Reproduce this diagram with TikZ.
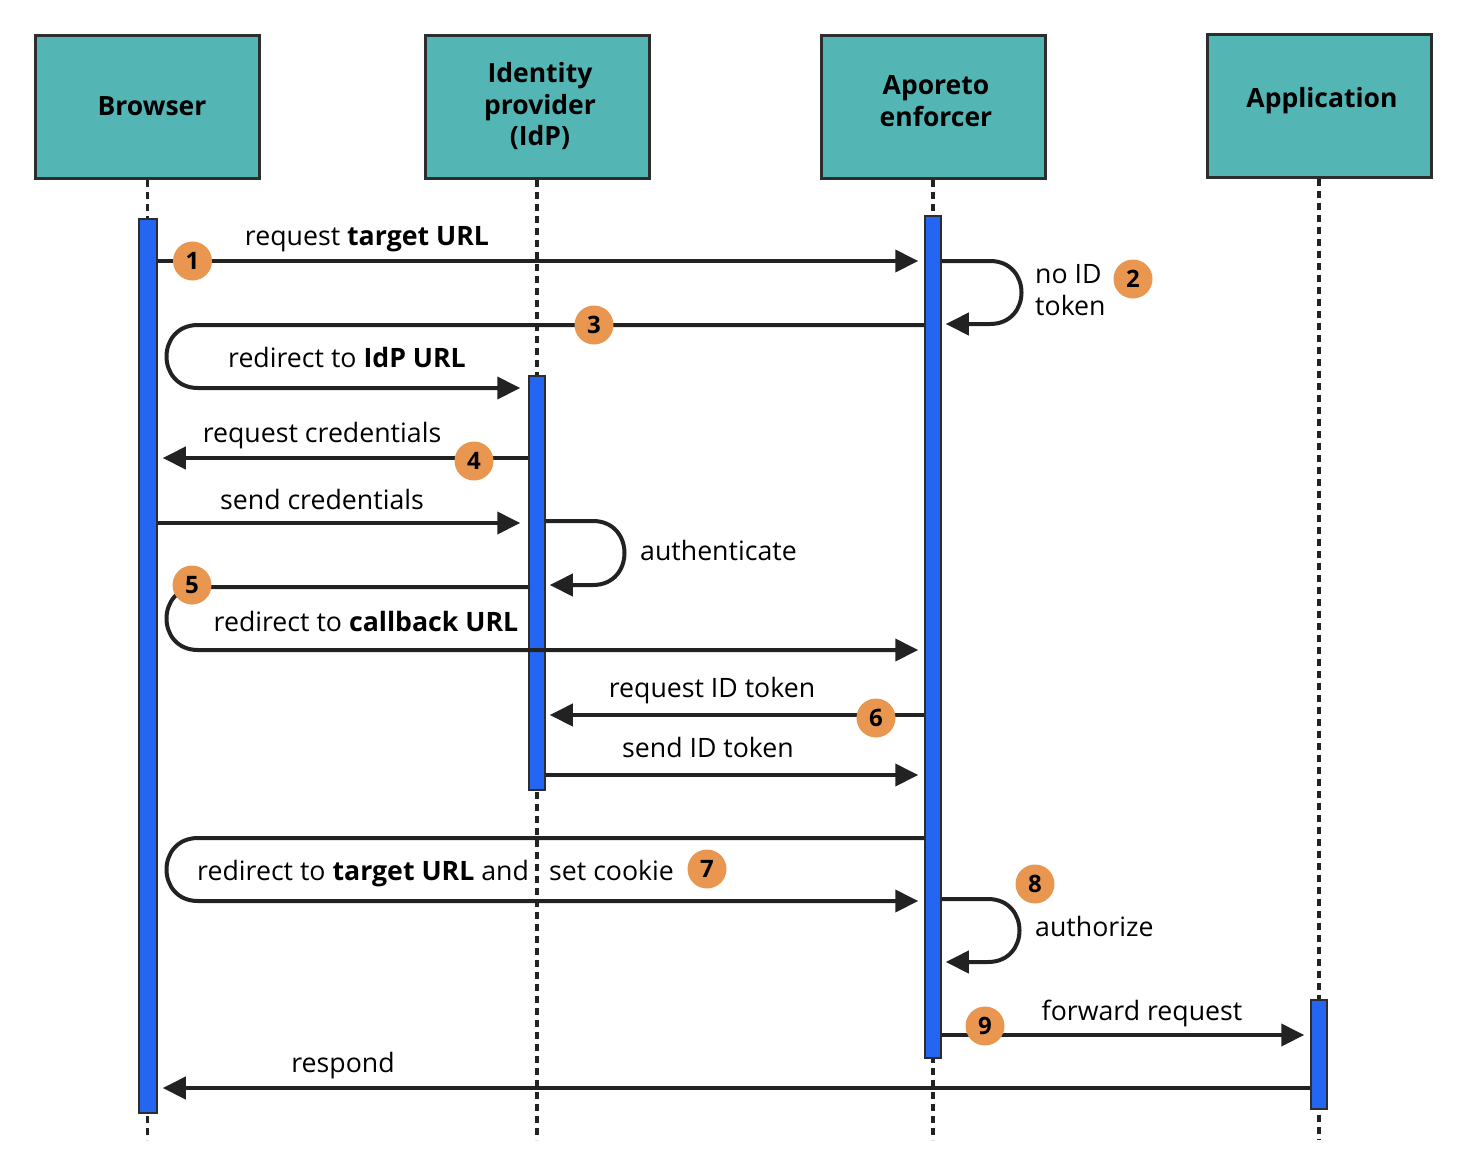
\documentclass[tikz,border=0pt]{standalone}
\usepackage{fontspec}
\setmainfont{Open Sans}
\usetikzlibrary{arrows.meta,calc}
\definecolor{headfill}{RGB}{84,181,181}
\definecolor{framec}{RGB}{45,45,45}
\definecolor{linec}{RGB}{34,34,34}
\definecolor{barblue}{RGB}{36,102,242}
\definecolor{badge}{RGB}{232,150,80}
\tikzset{
  head/.style={draw=framec, line width=3pt, fill=headfill, minimum width=224pt, minimum height=143pt, inner sep=0pt},
  headtext/.style={align=center, inner sep=0pt, font=\bfseries\fontsize{26.5}{31.5}\selectfont},
  lifeline/.style={draw=linec, line width=3.3pt, dash pattern=on 7pt off 5pt},
  actbar/.style={draw=framec, line width=1.5pt, fill=barblue, minimum width=16pt, inner sep=0pt},
  msg/.style={draw=linec, line width=4pt, -{Triangle[length=23pt,width=22pt]}},
  lbl/.style={inner sep=0pt, anchor=base, font=\fontsize{26.7}{31.5}\selectfont},
  num/.style={circle, fill=badge, minimum size=39pt, inner sep=0pt, font=\bfseries\fontsize{24}{24}\selectfont}
}
\begin{document}
\begin{tikzpicture}[x=1pt,y=-1pt]
\useasboundingbox (0,0) rectangle (1478,1168);
% heads
\node[head] (bHead) at (147.5,107) {};
\node[head] (iHead) at (537,107) {};
\node[head] (aHead) at (933,107) {};
\node[head] (pHead) at (1319,105.5) {};
\node[headtext] (bText) at (152,106.5) {Browser};
\node[headtext] (iText) at (540,106.5) {Identity\\provider\\(IdP)};
\node[headtext] (aText) at (936,101) {Aporeto\\enforcer};
\node[headtext] (pText) at (1322,100.5) {Application};
% lifelines
\draw[lifeline] (bHead.south) -- (bHead.south |- 0,1140);
\draw[lifeline] (iHead.south) -- (iHead.south |- 0,1140);
\draw[lifeline] (aHead.south) -- (aHead.south |- 0,1140);
\draw[lifeline] (pHead.south) -- (pHead.south |- 0,1140);
% activation bars
\node[actbar, minimum width=18pt, minimum height=894pt] (bBar) at (148,666) {};
\node[actbar, minimum height=414pt] (iBar) at (537,583) {};
\node[actbar, minimum height=842pt] (aBar) at (933,637) {};
\node[actbar, minimum height=109pt] (pBar) at (1319,1054.5) {};
% 1 request target URL
\draw[msg, shorten >=6pt] (bBar.east |- 0,261) -- (aBar.west |- 0,261);
\node[lbl] (t1) at (367,245) {request \textbf{target URL}};
% 2 no ID token loop
\draw[msg, shorten >=4pt] (aBar.east |- 0,261) -- (990,261) .. controls (1032,261) and (1032,324) .. (990,324) -- (aBar.east |- 0,324);
\node[lbl, anchor=base west] (t2a) at (1035,283) {no ID};
\node[lbl, anchor=base west] (t2b) at (1035,315) {token};
% 3 redirect to IdP URL
\draw[msg, shorten >=8pt] (aBar.west |- 0,325) -- (198,325) .. controls (156,325) and (156,388) .. (198,388) -- (iBar.west |- 0,388);
\node[lbl] (t3) at (347,367) {redirect to \textbf{IdP URL}};
% 4 request credentials
\draw[msg, shorten >=5pt] (iBar.west |- 0,458) -- (bBar.east |- 0,458);
\node[lbl] (t4) at (322,442) {request credentials};
% send credentials
\draw[msg, shorten >=8pt] (bBar.east |- 0,523) -- (iBar.west |- 0,523);
\node[lbl] (t4b) at (322,509) {send credentials};
% authenticate loop
\draw[msg, shorten >=4pt] (iBar.east |- 0,521) -- (593,521) .. controls (635,521) and (635,585) .. (593,585) -- (iBar.east |- 0,585);
\node[lbl, anchor=base west] (t4c) at (640,560) {authenticate};
% 5 redirect to callback URL
\draw[msg, shorten >=6pt] (iBar.west |- 0,587) -- (198,587) .. controls (156,587) and (156,650) .. (198,650) -- (aBar.west |- 0,650);
\node[lbl] (t5) at (366,631) {redirect to \textbf{callback URL}};
% 6 request ID token
\draw[msg, shorten >=4pt] (aBar.west |- 0,715) -- (iBar.east |- 0,715);
\node[lbl] (t6) at (712,697) {request ID token};
% send ID token
\draw[msg, shorten >=6pt] (iBar.east |- 0,775) -- (aBar.west |- 0,775);
\node[lbl] (t6b) at (708,757) {send ID token};
% 7 redirect to target URL and set cookie
\draw[msg, shorten >=6pt] (aBar.west |- 0,838) -- (198,838) .. controls (156,838) and (156,901) .. (198,901) -- (aBar.west |- 0,901);
\node[lbl, anchor=base west] (t7a) at (197,880) {redirect to \textbf{target URL} and};
\node[lbl, anchor=base west] (t7b) at (549,880) {set cookie};
% 8 authorize loop
\draw[msg, shorten >=4pt] (aBar.east |- 0,899) -- (988,899) .. controls (1030,899) and (1030,962) .. (988,962) -- (aBar.east |- 0,962);
\node[lbl, anchor=base west] (t8) at (1035,936) {authorize};
% 9 forward request
\draw[msg, shorten >=6pt] (aBar.east |- 0,1035) -- (pBar.west |- 0,1035);
\node[lbl] (t9) at (1142,1020) {forward request};
% respond
\draw[msg, shorten >=5pt] (pBar.west |- 0,1088) -- (bBar.east |- 0,1088);
\node[lbl] (t10) at (343,1072) {respond};
% badges
\node[num] (n1) at (192.5,261) {1};
\node[num] (n2) at (1133,279) {2};
\node[num] (n3) at (594,325) {3};
\node[num] (n4) at (474,461) {4};
\node[num] (n5) at (192,585) {5};
\node[num] (n6) at (876,718) {6};
\node[num] (n7) at (707,869) {7};
\node[num] (n8) at (1035,884) {8};
\node[num] (n9) at (985,1026) {9};
\end{tikzpicture}
\end{document}
